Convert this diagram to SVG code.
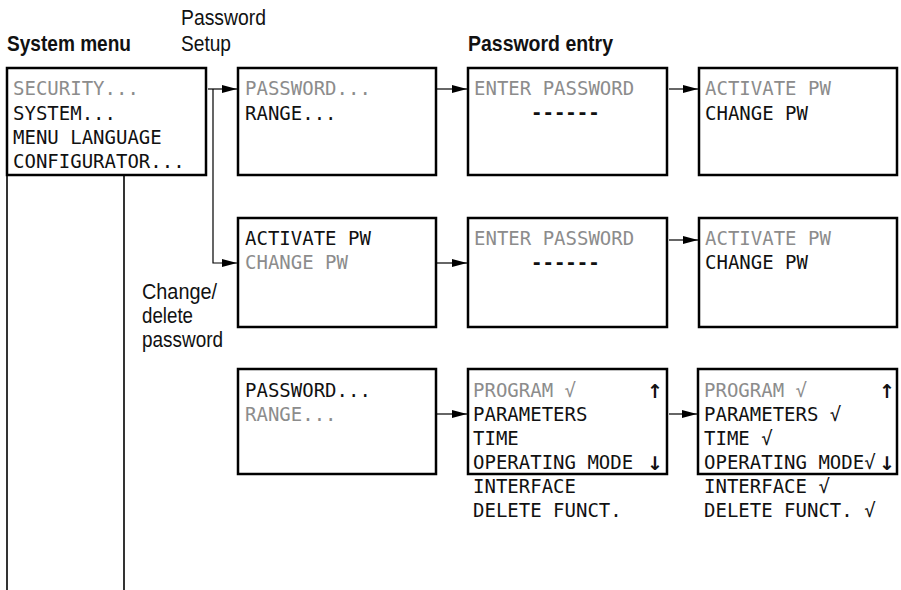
<svg xmlns="http://www.w3.org/2000/svg" width="901" height="590" viewBox="0 0 901 590">
<style>
  .box { fill: #fff; stroke: #000; stroke-width: 2.5; }
  .lcd { font-family: "DejaVu Sans Mono", "Liberation Mono", monospace; font-size: 19px; fill: #111; white-space: pre; }
  .dim { fill: #8c8c8c; }
  .dash { font-weight: bold; }
  .arw { font-family: "DejaVu Sans", sans-serif; font-size: 19px; font-weight: bold; fill: #111; text-anchor: middle; }
  .lbl { font-family: "Liberation Sans", Arial, sans-serif; font-size: 22px; fill: #111; }
  .hd { font-weight: bold; }
  .con { fill: none; stroke: #000; stroke-width: 1.2; }
  .rail { fill: none; stroke: #000; stroke-width: 1.6; }
</style>
<defs>
  <marker id="ah" markerUnits="userSpaceOnUse" markerWidth="16" markerHeight="9" refX="15" refY="4" orient="auto">
    <path d="M0,0 L15,4 L0,8 z" fill="#000"/>
  </marker>
</defs>
<rect width="901" height="590" fill="#fff"/>

<g id="labels">
  <text class="lbl hd" x="7" y="51" textLength="124" lengthAdjust="spacingAndGlyphs">System menu</text>
  <text class="lbl" x="181" y="25" textLength="85" lengthAdjust="spacingAndGlyphs">Password</text>
  <text class="lbl" x="181" y="51" textLength="50" lengthAdjust="spacingAndGlyphs">Setup</text>
  <text class="lbl hd" x="468" y="51" textLength="145" lengthAdjust="spacingAndGlyphs">Password entry</text>
  <text class="lbl" x="142" y="299" textLength="75" lengthAdjust="spacingAndGlyphs">Change/</text>
  <text class="lbl" x="142" y="323" textLength="51" lengthAdjust="spacingAndGlyphs">delete</text>
  <text class="lbl" x="142" y="347" textLength="81" lengthAdjust="spacingAndGlyphs">password</text>
</g>

<g id="connectors">
  <path class="rail" d="M7,176 V590"/>
  <path class="rail" d="M124,176 V590"/>
  <path class="con" d="M208,89 H237" marker-end="url(#ah)"/>
  <path class="con" d="M213,89 V263 H237" marker-end="url(#ah)"/>
  <path class="con" d="M437,89 H467" marker-end="url(#ah)"/>
  <path class="con" d="M669,89 H698" marker-end="url(#ah)"/>
  <path class="con" d="M437,263 H467" marker-end="url(#ah)"/>
  <path class="con" d="M669,240 H698" marker-end="url(#ah)"/>
  <path class="con" d="M437,414 H467" marker-end="url(#ah)"/>
  <path class="con" d="M669,414 H697" marker-end="url(#ah)"/>
</g>

<g id="system-menu">
  <rect class="box" x="7" y="68" width="199" height="107"/>
  <text class="lcd dim" x="13" y="95">SECURITY...</text>
  <text class="lcd" x="13" y="120">SYSTEM...</text>
  <text class="lcd" x="13" y="144">MENU LANGUAGE</text>
  <text class="lcd" x="13" y="168">CONFIGURATOR...</text>
</g>

<g id="security-password">
  <rect class="box" x="238" y="68" width="198" height="107"/>
  <text class="lcd dim" x="245" y="95">PASSWORD...</text>
  <text class="lcd" x="245" y="120">RANGE...</text>
</g>

<g id="enter-password-1">
  <rect class="box" x="468" y="68" width="199" height="107"/>
  <text class="lcd dim" x="474" y="95">ENTER PASSWORD</text>
  <text class="lcd dash" x="531" y="119">------</text>
</g>

<g id="activate-pw-1">
  <rect class="box" x="699" y="68" width="198" height="107"/>
  <text class="lcd dim" x="705" y="95">ACTIVATE PW</text>
  <text class="lcd" x="705" y="120">CHANGE PW</text>
</g>

<g id="change-pw-menu">
  <rect class="box" x="238" y="218" width="198" height="109"/>
  <text class="lcd" x="245" y="245">ACTIVATE PW</text>
  <text class="lcd dim" x="245" y="269">CHANGE PW</text>
</g>

<g id="enter-password-2">
  <rect class="box" x="468" y="218" width="199" height="109"/>
  <text class="lcd dim" x="474" y="245">ENTER PASSWORD</text>
  <text class="lcd dash" x="531" y="269">------</text>
</g>

<g id="activate-pw-2">
  <rect class="box" x="699" y="218" width="198" height="109"/>
  <text class="lcd dim" x="705" y="245">ACTIVATE PW</text>
  <text class="lcd" x="705" y="269">CHANGE PW</text>
</g>

<g id="range-menu">
  <rect class="box" x="238" y="369" width="198" height="105"/>
  <text class="lcd" x="245" y="397">PASSWORD...</text>
  <text class="lcd dim" x="245" y="421">RANGE...</text>
</g>

<g id="range-select">
  <rect class="box" x="468" y="369" width="199" height="105"/>
  <text class="lcd dim" x="473" y="397">PROGRAM √</text>
  <text class="arw" x="655" y="398">↑</text>
  <text class="lcd" x="473" y="421">PARAMETERS</text>
  <text class="lcd" x="473" y="445">TIME</text>
  <text class="lcd" x="473" y="469">OPERATING MODE</text>
  <text class="arw" x="655" y="470">↓</text>
  <text class="lcd" x="473" y="493">INTERFACE</text>
  <text class="lcd" x="473" y="517">DELETE FUNCT.</text>
</g>

<g id="range-selected">
  <rect class="box" x="698" y="369" width="199" height="105"/>
  <text class="lcd dim" x="704" y="397">PROGRAM √</text>
  <text class="arw" x="887" y="398">↑</text>
  <text class="lcd" x="704" y="421">PARAMETERS √</text>
  <text class="lcd" x="704" y="445">TIME √</text>
  <text class="lcd" x="704" y="469">OPERATING MODE√</text>
  <text class="arw" x="887" y="470">↓</text>
  <text class="lcd" x="704" y="493">INTERFACE √</text>
  <text class="lcd" x="704" y="517">DELETE FUNCT. √</text>
</g>
</svg>
